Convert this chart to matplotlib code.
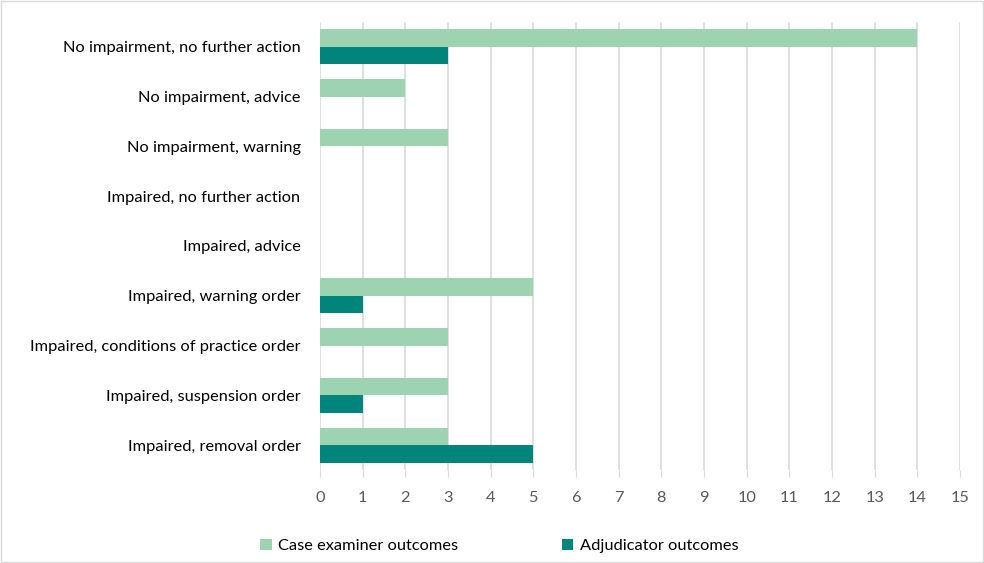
import matplotlib.pyplot as plt
from matplotlib.patches import Rectangle

categories = [
    "No impairment, no further action",
    "No impairment, advice",
    "No impairment, warning",
    "Impaired, no further action",
    "Impaired, advice",
    "Impaired, warning order",
    "Impaired, conditions of practice order",
    "Impaired, suspension order",
    "Impaired, removal order",
]
case_examiner = [14, 2, 3, 0, 0, 5, 3, 3, 3]
adjudicator = [3, 0, 0, 0, 0, 1, 0, 1, 5]
x_ticks = list(range(0, 16))

light_green = "#9dd3b0"
teal = "#00857d"

plt.rcParams['font.family'] = ['Lato', 'DejaVu Sans']

fig = plt.figure(figsize=(9.84, 5.63), dpi=100)
ax = fig.add_axes([320 / 984, 1 - 470 / 563, 640 / 984, 448 / 563])

# categories from top to bottom
pos = list(range(len(categories)))
h = 0.35
ax.barh([p - h / 2 for p in pos], case_examiner, height=h, color=light_green, label="Case examiner outcomes", zorder=3)
ax.barh([p + h / 2 for p in pos], adjudicator, height=h, color=teal, label="Adjudicator outcomes", zorder=3)

ax.set_ylim(len(categories) - 0.5, -0.5)
ax.set_xlim(0, 15)
ax.set_yticks(pos)
ax.set_yticklabels(categories, fontsize=11.8, color="#000000")
ax.set_xticks(x_ticks)
ax.tick_params(axis='x', labelsize=11.8, labelcolor="#595959", length=5, color="#d9d9d9", pad=10)
ax.tick_params(axis='y', length=0, pad=14)

ax.grid(axis='x', color="#d9d9d9", linewidth=1.2, zorder=0)
for s in ax.spines.values():
    s.set_visible(False)

ax.legend(loc='upper center', bbox_to_anchor=(0.28, -0.12), ncol=2, frameon=False,
          fontsize=11.8, handlelength=0.7, handleheight=0.7, columnspacing=6.3, handletextpad=0.4)

# light border around the whole figure
fig.patches.append(Rectangle((0.001, 0.001), 0.998, 0.997, transform=fig.transFigure,
                             fill=False, edgecolor="#d9d9d9", linewidth=1))

plt.savefig("out.png", dpi=100)
